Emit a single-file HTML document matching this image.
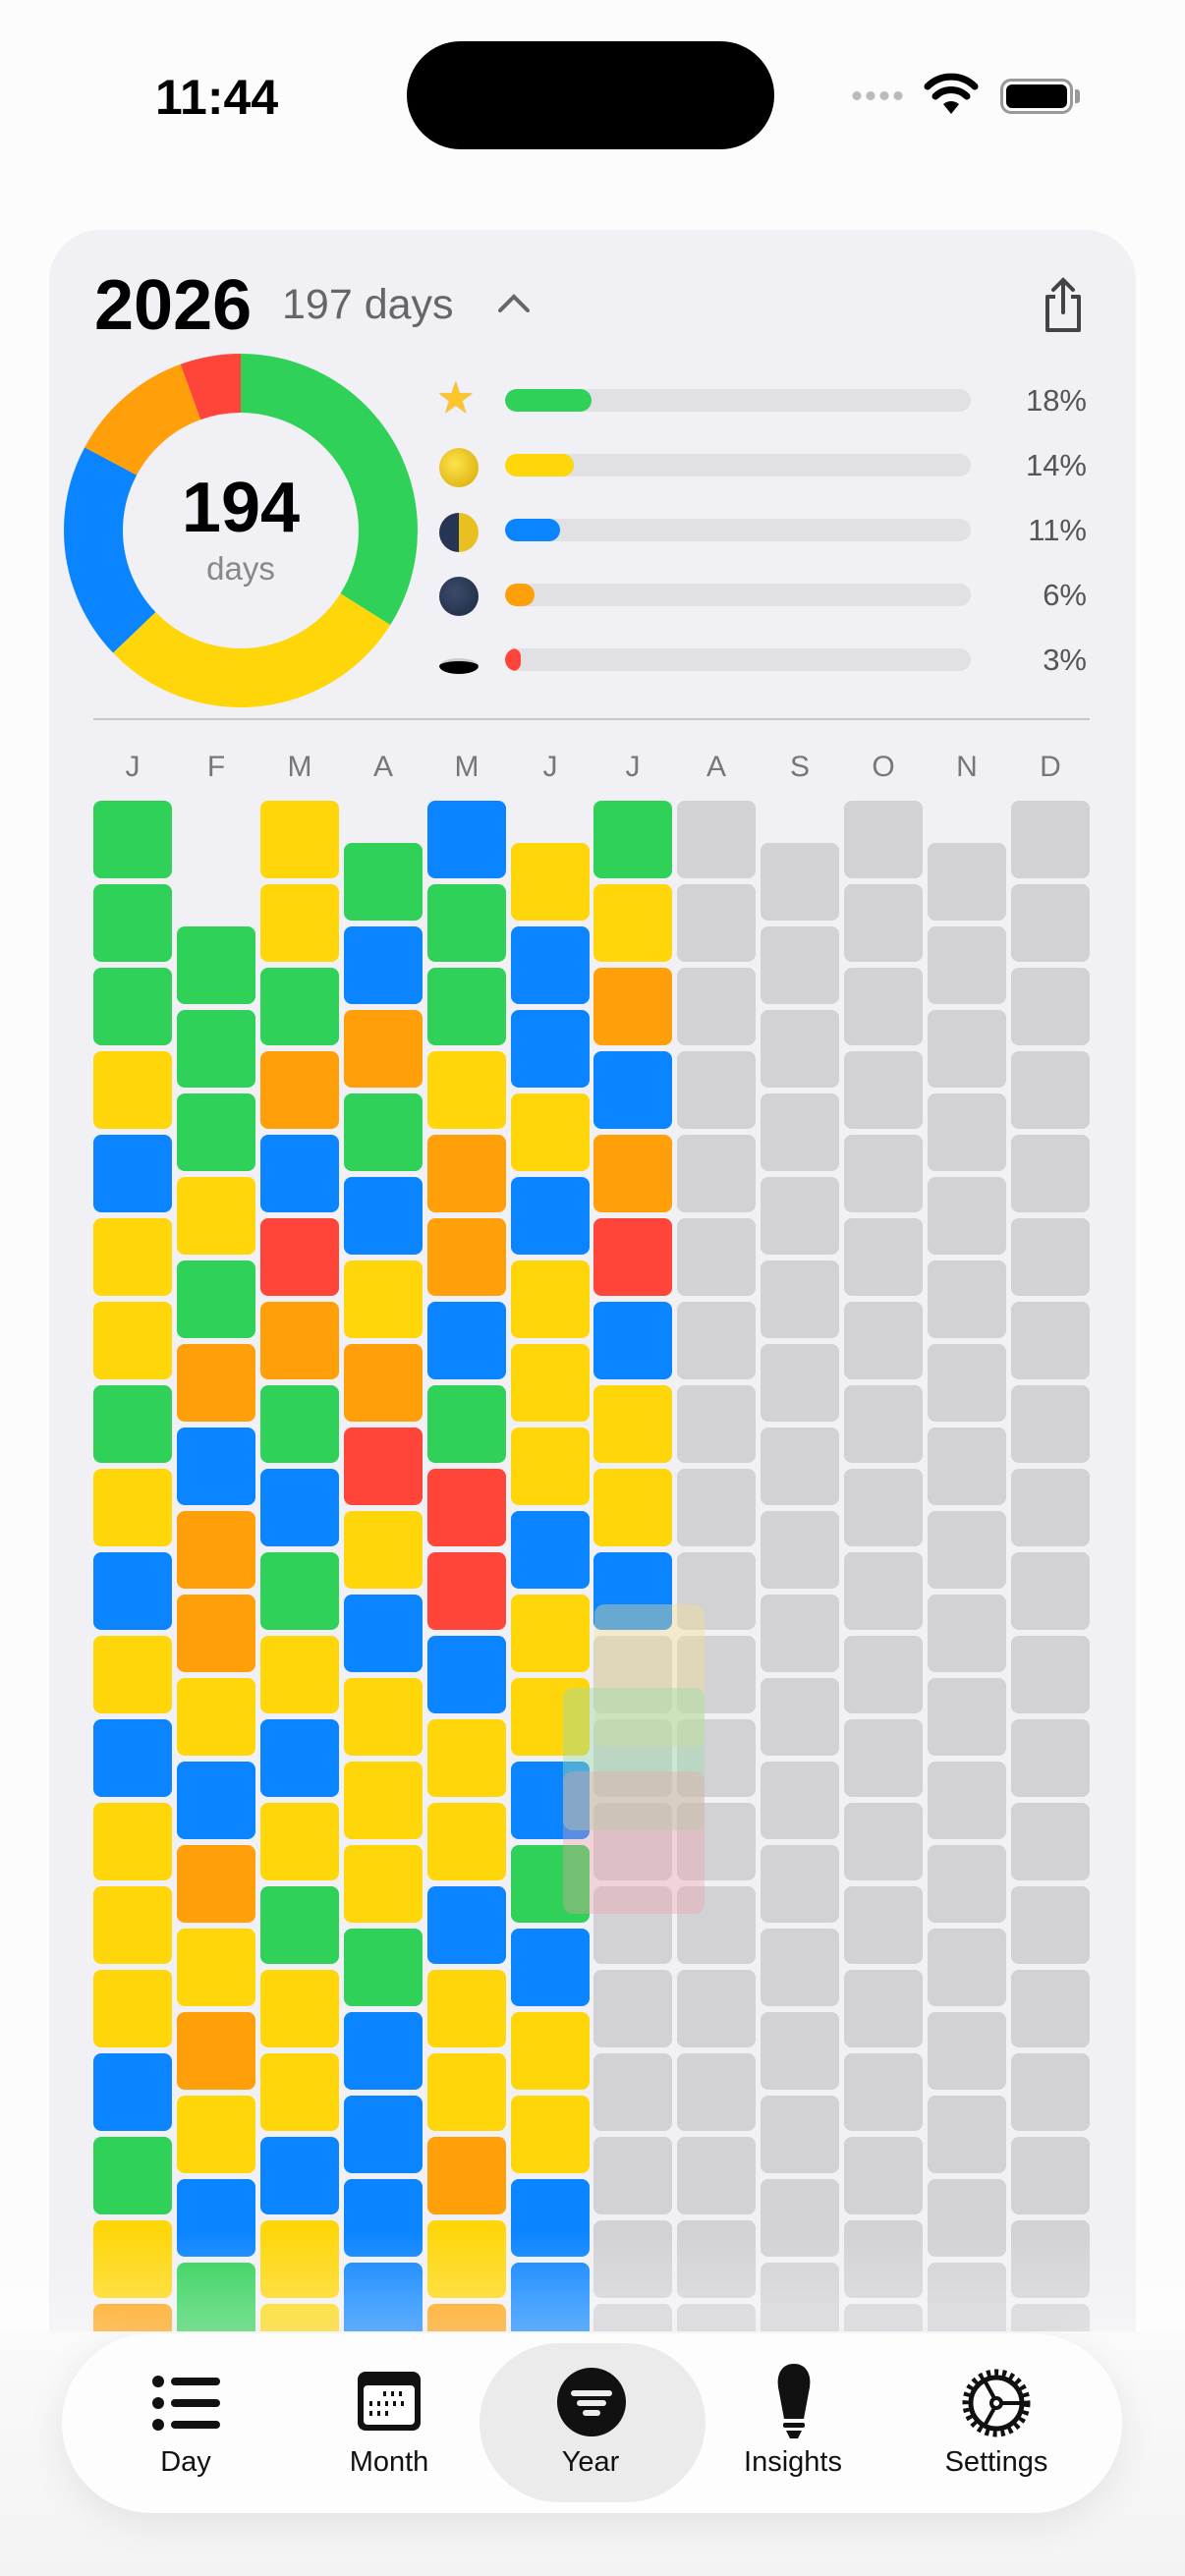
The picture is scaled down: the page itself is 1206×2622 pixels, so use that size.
<!DOCTYPE html>
<html><head><meta charset="utf-8"><style>
*{margin:0;padding:0;box-sizing:border-box}
body{width:1206px;height:2622px;background:#fcfcfc;position:relative;overflow:hidden;font-family:"Liberation Sans",sans-serif}
.abs{position:absolute}
.card{position:absolute;left:50px;top:234px;width:1106px;height:2200px;background:#f0f0f5;border-radius:52px}
.col{position:absolute;width:80px;display:flex;flex-direction:column;gap:6px}
.col i{display:block;width:80px;height:79px;border-radius:8px;flex:none}
.g{background:#30d158}.y{background:#fed60a}.b{background:#0a84ff}.o{background:#ff9f0a}.r{background:#ff453a}.e{background:#d1d1d6}
.track{position:absolute;left:514px;width:474px;height:23px;border-radius:12px;background:#e0e0e5;overflow:hidden}
.track span{display:block;height:23px;border-radius:12px}
.pct{position:absolute;right:100px;font-size:31px;color:#555;text-align:right}
.ml{position:absolute;top:764px;width:80px;text-align:center;font-size:30px;color:#777}
.tab{position:absolute;top:2490px;width:200px;margin-left:-100px;text-align:center;font-size:29px;color:#111}
</style></head><body>
<!-- status bar -->
<div class="abs" style="left:158px;top:70px;font-size:50px;font-weight:bold;color:#000">11:44</div>
<div class="abs" style="left:414px;top:42px;width:374px;height:110px;background:#000;border-radius:55px"></div>
<div class="abs" style="left:865px;top:92px;width:55px;height:11px;background:radial-gradient(circle,#bbb 4px,transparent 5px) 0 0/14px 11px repeat-x"></div>
<svg class="abs" style="left:940px;top:72px" width="56" height="46" viewBox="0 0 56 46"><path d="M28 44 L20 34 A12 12 0 0 1 36 34Z" fill="#000"/><path d="M12 26 A23 23 0 0 1 44 26" stroke="#000" stroke-width="7" fill="none" stroke-linecap="round"/><path d="M4 16 A34 34 0 0 1 52 16" stroke="#000" stroke-width="7" fill="none" stroke-linecap="round"/></svg>
<div class="abs" style="left:1018px;top:80px;width:74px;height:36px;border:3px solid #999;border-radius:11px;padding:3px"><div style="width:100%;height:100%;background:#000;border-radius:6px"></div></div>
<div class="abs" style="left:1094px;top:91px;width:5px;height:14px;background:#999;border-radius:0 3px 3px 0"></div>

<div class="card"></div>
<!-- header -->
<div class="abs" style="left:96px;top:270px;font-size:72px;font-weight:bold;color:#000">2026</div>
<div class="abs" style="left:287px;top:286px;font-size:43px;color:#666">197 days</div>
<svg class="abs" style="left:505px;top:296px" width="36" height="24"><path d="M4 20 L18 6 L32 20" stroke="#666" stroke-width="4" fill="none" stroke-linecap="round"/></svg>
<svg class="abs" style="left:1060px;top:282px" width="44" height="58"><path d="M14 20 H6 V54 H38 V20 H30" stroke="#444" stroke-width="4" fill="none" stroke-linejoin="round"/><path d="M22 36 V4 M12 13 L22 3 L32 13" stroke="#444" stroke-width="4" fill="none" stroke-linecap="round"/></svg>
<!-- donut -->
<svg class="abs" style="left:65px;top:360px" width="360" height="360" viewBox="0 0 360 360">
<g transform="rotate(-90 180 180)" fill="none" stroke-width="60">
<circle cx="180" cy="180" r="150" stroke="#30d158" stroke-dasharray="320 1000" stroke-dashoffset="0"/>
<circle cx="180" cy="180" r="150" stroke="#fed60a" stroke-dasharray="272 1000" stroke-dashoffset="-320"/>
<circle cx="180" cy="180" r="150" stroke="#0a84ff" stroke-dasharray="188 1000" stroke-dashoffset="-592"/>
<circle cx="180" cy="180" r="150" stroke="#ff9f0a" stroke-dasharray="110 1000" stroke-dashoffset="-780"/>
<circle cx="180" cy="180" r="150" stroke="#ff453a" stroke-dasharray="53 1000" stroke-dashoffset="-890"/>
</g></svg>
<div class="abs" style="left:145px;top:476px;width:200px;text-align:center;font-size:72px;font-weight:bold;color:#000">194</div>
<div class="abs" style="left:145px;top:560px;width:200px;text-align:center;font-size:33px;color:#888">days</div>
<!-- legend icons -->
<div class="abs" style="left:444px;top:384px;font-size:44px;color:#fcc52a;line-height:44px;text-shadow:0 0 1px #c80">★</div>
<div class="abs" style="left:447px;top:456px;width:40px;height:40px;border-radius:50%;background:radial-gradient(circle at 40% 40%,#ffe34d,#d4a800)"></div>
<div class="abs" style="left:447px;top:522px;width:40px;height:40px;border-radius:50%;background:linear-gradient(90deg,#263553 50%,#e8c020 50%)"></div>
<div class="abs" style="left:447px;top:587px;width:40px;height:40px;border-radius:50%;background:radial-gradient(circle at 40% 40%,#3b4b6b,#1e2940)"></div>
<div class="abs" style="left:447px;top:670px;width:40px;height:16px;border-radius:50%;background:#000;border-top:3px solid #ccc"></div>
<div class="track" style="top:396px"><span class="g" style="width:88px"></span></div>
<div class="track" style="top:462px"><span class="y" style="width:70px"></span></div>
<div class="track" style="top:528px"><span class="b" style="width:56px"></span></div>
<div class="track" style="top:594px"><span class="o" style="width:30px"></span></div>
<div class="track" style="top:660px"><span class="r" style="width:16px"></span></div>
<div class="pct" style="top:390px">18%</div>
<div class="pct" style="top:456px">14%</div>
<div class="pct" style="top:522px">11%</div>
<div class="pct" style="top:588px">6%</div>
<div class="pct" style="top:654px">3%</div>
<div class="abs" style="left:95px;top:731px;width:1014px;height:2px;background:#c8c8cc"></div>
<!-- month labels -->
<div class="ml" style="left:95px">J</div><div class="ml" style="left:180px">F</div><div class="ml" style="left:265px">M</div><div class="ml" style="left:350px">A</div><div class="ml" style="left:435px">M</div><div class="ml" style="left:520px">J</div><div class="ml" style="left:604px">J</div><div class="ml" style="left:689px">A</div><div class="ml" style="left:774px">S</div><div class="ml" style="left:859px">O</div><div class="ml" style="left:944px">N</div><div class="ml" style="left:1029px">D</div>
<!-- grid -->
<div class="abs" style="left:0;top:800px;width:1206px;height:1573px;overflow:hidden">
<div class="col" style="left:95px;top:15px"><i class=g></i><i class=g></i><i class=g></i><i class=y></i><i class=b></i><i class=y></i><i class=y></i><i class=g></i><i class=y></i><i class=b></i><i class=y></i><i class=b></i><i class=y></i><i class=y></i><i class=y></i><i class=b></i><i class=g></i><i class=y></i><i class=o></i></div>
<div class="col" style="left:180px;top:143px"><i class=g></i><i class=g></i><i class=g></i><i class=y></i><i class=g></i><i class=o></i><i class=b></i><i class=o></i><i class=o></i><i class=y></i><i class=b></i><i class=o></i><i class=y></i><i class=o></i><i class=y></i><i class=b></i><i class=g></i></div>
<div class="col" style="left:265px;top:15px"><i class=y></i><i class=y></i><i class=g></i><i class=o></i><i class=b></i><i class=r></i><i class=o></i><i class=g></i><i class=b></i><i class=g></i><i class=y></i><i class=b></i><i class=y></i><i class=g></i><i class=y></i><i class=y></i><i class=b></i><i class=y></i><i class=y></i></div>
<div class="col" style="left:350px;top:58px"><i class=g></i><i class=b></i><i class=o></i><i class=g></i><i class=b></i><i class=y></i><i class=o></i><i class=r></i><i class=y></i><i class=b></i><i class=y></i><i class=y></i><i class=y></i><i class=g></i><i class=b></i><i class=b></i><i class=b></i><i class=b></i></div>
<div class="col" style="left:435px;top:15px"><i class=b></i><i class=g></i><i class=g></i><i class=y></i><i class=o></i><i class=o></i><i class=b></i><i class=g></i><i class=r></i><i class=r></i><i class=b></i><i class=y></i><i class=y></i><i class=b></i><i class=y></i><i class=y></i><i class=o></i><i class=y></i><i class=o></i></div>
<div class="col" style="left:520px;top:58px"><i class=y></i><i class=b></i><i class=b></i><i class=y></i><i class=b></i><i class=y></i><i class=y></i><i class=y></i><i class=b></i><i class=y></i><i class=y></i><i class=b></i><i class=g></i><i class=b></i><i class=y></i><i class=y></i><i class=b></i><i class=b></i></div>
<div class="col" style="left:604px;top:15px"><i class=g></i><i class=y></i><i class=o></i><i class=b></i><i class=o></i><i class=r></i><i class=b></i><i class=y></i><i class=y></i><i class=b></i><i class=e></i><i class=e></i><i class=e></i><i class=e></i><i class=e></i><i class=e></i><i class=e></i><i class=e></i><i class=e></i></div>
<div class="col" style="left:689px;top:15px"><i class=e></i><i class=e></i><i class=e></i><i class=e></i><i class=e></i><i class=e></i><i class=e></i><i class=e></i><i class=e></i><i class=e></i><i class=e></i><i class=e></i><i class=e></i><i class=e></i><i class=e></i><i class=e></i><i class=e></i><i class=e></i><i class=e></i></div>
<div class="col" style="left:774px;top:58px"><i class=e></i><i class=e></i><i class=e></i><i class=e></i><i class=e></i><i class=e></i><i class=e></i><i class=e></i><i class=e></i><i class=e></i><i class=e></i><i class=e></i><i class=e></i><i class=e></i><i class=e></i><i class=e></i><i class=e></i><i class=e></i></div>
<div class="col" style="left:859px;top:15px"><i class=e></i><i class=e></i><i class=e></i><i class=e></i><i class=e></i><i class=e></i><i class=e></i><i class=e></i><i class=e></i><i class=e></i><i class=e></i><i class=e></i><i class=e></i><i class=e></i><i class=e></i><i class=e></i><i class=e></i><i class=e></i><i class=e></i></div>
<div class="col" style="left:944px;top:58px"><i class=e></i><i class=e></i><i class=e></i><i class=e></i><i class=e></i><i class=e></i><i class=e></i><i class=e></i><i class=e></i><i class=e></i><i class=e></i><i class=e></i><i class=e></i><i class=e></i><i class=e></i><i class=e></i><i class=e></i><i class=e></i></div>
<div class="col" style="left:1029px;top:15px"><i class=e></i><i class=e></i><i class=e></i><i class=e></i><i class=e></i><i class=e></i><i class=e></i><i class=e></i><i class=e></i><i class=e></i><i class=e></i><i class=e></i><i class=e></i><i class=e></i><i class=e></i><i class=e></i><i class=e></i><i class=e></i><i class=e></i></div>
<!-- drag ghost -->
<div class="abs" style="left:605px;top:833px;width:112px;height:145px;border-radius:10px;background:rgba(245,225,140,.4)"></div>
<div class="abs" style="left:573px;top:918px;width:144px;height:145px;border-radius:10px;background:rgba(160,220,170,.45)"></div>
<div class="abs" style="left:573px;top:1003px;width:144px;height:145px;border-radius:10px;background:rgba(240,160,170,.35)"></div>
<div class="abs" style="left:0;top:1470px;width:1206px;height:103px;background:linear-gradient(rgba(255,255,255,0),rgba(255,255,255,.35))"></div>
</div>
<!-- bottom area -->
<div class="abs" style="left:0;top:2373px;width:1206px;height:249px;background:linear-gradient(#fafafa,#f3f3f3)"></div>
<div class="abs" style="left:63px;top:2375px;width:1079px;height:183px;border-radius:92px;background:#fdfdfd;box-shadow:0 10px 40px rgba(0,0,0,.08)"></div>
<div class="abs" style="left:488px;top:2385px;width:230px;height:162px;border-radius:81px;background:#ebebeb"></div>
<!-- icons -->
<svg class="abs" style="left:154px;top:2418px" width="72" height="56"><g fill="#111"><circle cx="7" cy="6" r="6"/><circle cx="7" cy="28" r="6"/><circle cx="7" cy="50" r="6"/><rect x="20" y="2" width="50" height="8" rx="4"/><rect x="20" y="24" width="50" height="8" rx="4"/><rect x="20" y="46" width="50" height="8" rx="4"/></g></svg>
<svg class="abs" style="left:362px;top:2412px" width="68" height="64"><rect x="2" y="2" width="64" height="60" rx="8" fill="#111"/><rect x="8" y="16" width="52" height="40" rx="4" fill="#fff"/><g fill="#111"><rect x="28" y="22" width="3" height="5"/><rect x="36" y="22" width="3" height="5"/><rect x="44" y="22" width="3" height="5"/><rect x="14" y="32" width="3" height="5"/><rect x="22" y="32" width="3" height="5"/><rect x="30" y="32" width="3" height="5"/><rect x="38" y="32" width="3" height="5"/><rect x="46" y="32" width="3" height="5"/><rect x="14" y="42" width="3" height="5"/><rect x="22" y="42" width="3" height="5"/><rect x="30" y="42" width="3" height="5"/></g></svg>
<svg class="abs" style="left:567px;top:2410px" width="70" height="70"><circle cx="35" cy="35" r="35" fill="#111"/><rect x="14" y="23" width="42" height="6" rx="3" fill="#eee"/><rect x="20" y="33" width="30" height="6" rx="3" fill="#eee"/><rect x="26" y="43" width="18" height="6" rx="3" fill="#eee"/></svg>
<svg class="abs" style="left:784px;top:2404px" width="48" height="80"><path d="M24 2 C36 2 42 12 40 26 L34 58 H14 L8 26 C6 12 12 2 24 2Z" fill="#111"/><rect x="13" y="62" width="22" height="5" rx="2" fill="#111"/><path d="M16 70 H32 L28 78 H20Z" fill="#111"/></svg>
<svg class="abs" style="left:976px;top:2408px" width="76" height="76" viewBox="0 0 76 76"><circle cx="38" cy="38" r="31" stroke="#111" stroke-width="7" fill="none" stroke-dasharray="4 4"/><circle cx="38" cy="38" r="26" stroke="#111" stroke-width="5" fill="none"/><circle cx="38" cy="38" r="5" stroke="#111" stroke-width="4" fill="none"/><path d="M43 38 H64 M36 33 L26 15 M36 43 L26 61" stroke="#111" stroke-width="4"/></svg>
<div class="tab" style="left:189px">Day</div>
<div class="tab" style="left:396px">Month</div>
<div class="tab" style="left:601px">Year</div>
<div class="tab" style="left:807px">Insights</div>
<div class="tab" style="left:1014px">Settings</div>
</body></html>
